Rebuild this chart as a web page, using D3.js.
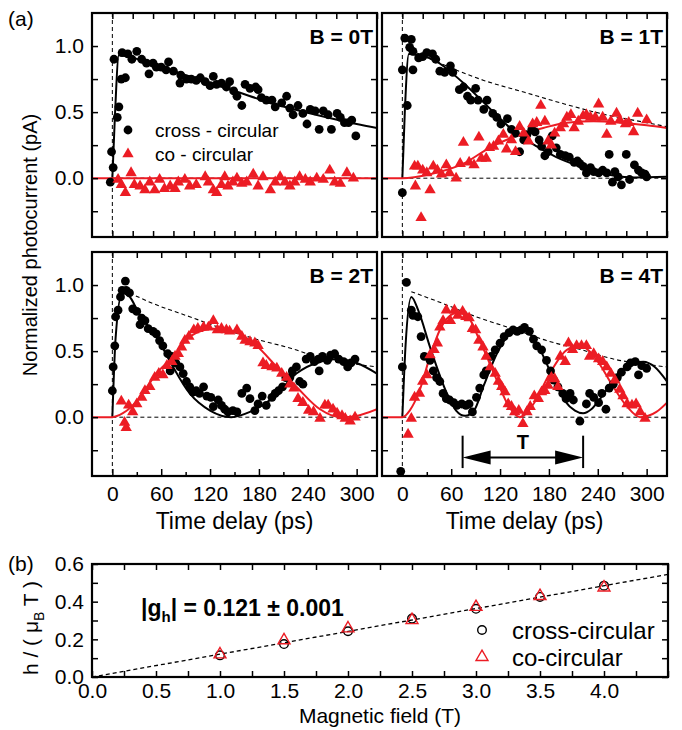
<!DOCTYPE html>
<html>
<head>
<meta charset="utf-8">
<script src="https://cdn.jsdelivr.net/npm/d3@7"></script>
<style>
  body { margin: 0; background: #fff; }
  text { font-family: "Liberation Sans", Arial, Helvetica, sans-serif; }
</style>
</head>
<body>
<svg id="chart" width="682" height="730"></svg>
<script>
// ---- data: [time delay (ps), normalized photocurrent] ----
const cross0T = [[-2.5,-0.03],[1,0.08],[-1,0.20],[6,0.46],[8,0.54],[2,0.90],[16,0.76],[11,0.75],[12,0.95],[19,0.94],[24,0.90],[30,0.96],[36,0.90],[42,0.87],[45,0.79],[50,0.87],[54,0.84],[60,0.84],[69,0.88],[66,0.82],[75,0.81],[83,0.72],[84,0.78],[91,0.75],[97,0.75],[103,0.74],[108,0.76],[114,0.73],[124,0.77],[120,0.70],[128,0.71],[134,0.72],[140,0.69],[144,0.73],[149,0.66],[153,0.62],[159,0.55],[163,0.71],[169,0.68],[176,0.69],[179,0.67],[183,0.61],[189,0.59],[196,0.59],[200,0.54],[208,0.57],[214,0.62],[218,0.53],[222,0.48],[228,0.55],[234,0.49],[239,0.41],[243,0.52],[249,0.51],[254,0.37],[259,0.51],[265,0.48],[269,0.37],[276,0.49],[280,0.46],[285,0.42],[290,0.42],[294,0.44],[299,0.32]];
const co0T = [[7,-0.01],[11,-0.05],[16,-0.11],[23,0.04],[27,-0.05],[34,-0.06],[40,-0.09],[46,-0.03],[52,-0.09],[58,-0.01],[64,-0.08],[71,-0.06],[77,-0.08],[81,-0.03],[89,-0.01],[95,-0.06],[103,-0.05],[114,0.01],[118,-0.03],[124,-0.09],[128,-0.11],[134,-0.05],[138,0.01],[142,-0.06],[148,-0.03],[153,0.0],[159,-0.04],[165,-0.03],[173,0.03],[179,-0.06],[185,0.01],[194,-0.09],[200,-0.03],[206,0.01],[212,-0.03],[218,-0.06],[224,-0.03],[230,0.01],[237,-0.01],[243,-0.03],[251,0.0],[259,-0.01],[267,0.06],[273,-0.03],[280,-0.04],[288,0.04],[296,0.0]];
const fitCross0T = [[0,0],[3,0.45],[8,0.93],[20,0.92],[50,0.86],[100,0.76],[150,0.66],[200,0.56],[250,0.48],[300,0.41],[325,0.38]];
const fitCo0T = [[-25,0],[325,0]];

const cross1T = [[0,-0.11],[0,0.82],[6,0.55],[3,1.06],[11,1.05],[9,0.99],[13,0.96],[20,0.91],[13,0.82],[30,0.95],[25,0.92],[37,0.94],[41,0.90],[46,0.81],[52,0.80],[59,0.85],[62,0.80],[70,0.67],[75,0.69],[80,0.62],[90,0.68],[84,0.59],[93,0.59],[100,0.52],[104,0.59],[111,0.49],[116,0.46],[121,0.41],[129,0.45],[134,0.37],[139,0.34],[144,0.20],[149,0.29],[153,0.33],[159,0.37],[163,0.35],[168,0.29],[171,0.24],[175,0.17],[179,0.20],[184,0.32],[189,0.23],[194,0.18],[200,0.17],[205,0.16],[211,0.12],[215,0.13],[218,0.11],[222,0.09],[226,0.04],[231,0.08],[235,0.05],[241,0.04],[246,0.06],[251,0.04],[254,0.18],[258,-0.03],[261,0.05],[265,0.01],[269,-0.05],[275,0.18],[279,-0.01],[285,0.10],[290,0.06],[294,0.04],[298,0.03],[300,0.01]];
const co1T = [[15,0.09],[19,0.09],[16,-0.06],[23,-0.30],[25,0.06],[30,0.04],[34,-0.09],[38,0.09],[43,0.06],[48,0.03],[54,0.10],[58,0.04],[66,0.0],[71,0.11],[75,0.27],[82,0.12],[88,0.10],[94,0.31],[97,0.15],[103,0.15],[107,0.23],[112,0.24],[118,0.28],[124,0.33],[128,0.22],[134,0.29],[139,0.20],[144,0.39],[149,0.34],[155,0.28],[160,0.41],[165,0.42],[170,0.55],[175,0.43],[179,0.28],[183,0.25],[187,0.34],[194,0.38],[198,0.41],[202,0.46],[207,0.48],[211,0.38],[216,0.43],[222,0.47],[226,0.48],[231,0.46],[237,0.46],[241,0.56],[246,0.46],[251,0.33],[256,0.43],[263,0.49],[267,0.44],[274,0.41],[278,0.42],[284,0.35],[289,0.49],[300,0.44]];
const fitCross1T = [[0,0],[3,0.5],[8,0.94],[20,0.93],[40,0.89],[75,0.72],[107,0.53],[140,0.34],[165,0.24],[189,0.16],[218,0.09],[251,0.03],[285,0.005],[325,0.01]];
const fitCo1T = [[-25,0],[0,0],[34,0.03],[75,0.11],[107,0.23],[140,0.32],[173,0.38],[202,0.42],[235,0.43],[267,0.42],[300,0.40],[325,0.38]];
const env1T = [[10,0.97],[50,0.86],[100,0.74],[150,0.65],[200,0.56],[250,0.48],[300,0.42],[325,0.39]];

const cross2T = [[0,0.20],[1,0.38],[3,0.54],[4,0.76],[7,0.81],[10,0.91],[12,0.96],[16,1.03],[17,0.96],[21,0.94],[25,0.82],[30,0.80],[36,0.75],[40,0.73],[34,0.70],[44,0.67],[50,0.65],[54,0.63],[58,0.58],[62,0.54],[68,0.48],[73,0.46],[71,0.35],[78,0.41],[83,0.38],[87,0.33],[91,0.27],[95,0.23],[99,0.19],[103,0.20],[107,0.18],[112,0.23],[116,0.16],[121,0.15],[124,0.08],[130,0.13],[134,0.09],[138,0.06],[142,0.04],[148,0.05],[153,0.04],[159,0.18],[165,0.22],[169,0.14],[175,0.05],[179,0.10],[184,0.16],[189,0.09],[196,0.15],[200,0.18],[204,0.20],[209,0.23],[213,0.30],[218,0.30],[221,0.35],[226,0.38],[230,0.27],[234,0.25],[238,0.44],[243,0.46],[248,0.42],[254,0.35],[253,0.44],[258,0.46],[264,0.43],[268,0.47],[273,0.48],[278,0.44],[284,0.42],[289,0.38],[293,0.41],[298,0.44]];
const co2T = [[11,0.12],[15,-0.04],[17,-0.08],[20,0.09],[25,0.04],[30,0.10],[36,0.15],[40,0.20],[46,0.23],[52,0.30],[57,0.33],[62,0.32],[67,0.39],[73,0.42],[77,0.46],[81,0.48],[85,0.53],[89,0.58],[94,0.61],[100,0.66],[105,0.67],[112,0.68],[118,0.68],[124,0.73],[129,0.66],[134,0.67],[140,0.66],[144,0.65],[153,0.66],[159,0.61],[163,0.58],[169,0.57],[175,0.56],[179,0.54],[185,0.41],[189,0.39],[196,0.38],[202,0.37],[208,0.33],[214,0.30],[218,0.25],[223,0.22],[228,0.14],[234,0.11],[241,0.05],[247,0.04],[255,-0.01],[261,0.09],[265,0.09],[271,0.06],[276,0.03],[282,0.01],[286,-0.01],[292,-0.03],[298,0.0]];
const fitCross2T = [[0,0],[4,0.6],[12,0.94],[20,0.92],[34,0.77],[54,0.61],[71,0.42],[95,0.18],[120,0.05],[146,0.0],[169,0.04],[198,0.15],[226,0.33],[255,0.42],[276,0.44],[300,0.41],[325,0.33]];
const fitCo2T = [[-25,0],[0,0],[13,0.03],[34,0.15],[54,0.33],[75,0.46],[95,0.61],[124,0.67],[148,0.65],[177,0.54],[202,0.38],[226,0.23],[255,0.06],[280,0.0],[300,0.01],[325,0.06]];
const env2T = [[21,0.94],[50,0.86],[95,0.76],[150,0.64],[177,0.59],[220,0.52],[259,0.44],[300,0.40],[325,0.38]];

const cross4T = [[-2,-0.41],[5,1.02],[0,0.38],[11,0.81],[13,0.77],[19,0.76],[23,0.61],[27,0.46],[34,0.43],[38,0.35],[42,0.30],[46,0.27],[50,0.18],[54,0.14],[58,0.13],[63,0.11],[67,0.09],[73,0.10],[78,0.09],[82,0.10],[86,0.04],[91,0.15],[95,0.22],[100,0.32],[103,0.35],[109,0.46],[114,0.51],[120,0.56],[125,0.61],[131,0.64],[136,0.66],[141,0.65],[146,0.66],[150,0.68],[156,0.65],[161,0.59],[165,0.54],[171,0.51],[177,0.43],[182,0.35],[186,0.28],[191,0.23],[197,0.18],[201,0.14],[206,0.18],[210,0.13],[218,-0.03],[226,0.10],[230,0.18],[235,0.15],[241,0.11],[245,0.18],[250,0.06],[254,0.22],[259,0.25],[264,0.30],[269,0.34],[276,0.38],[280,0.41],[286,0.42],[290,0.32],[294,0.39],[300,0.37]];
const co4T = [[7,-0.13],[11,-0.01],[15,0.15],[21,0.18],[25,0.27],[30,0.32],[34,0.47],[39,0.51],[43,0.56],[46,0.68],[50,0.73],[54,0.81],[59,0.73],[64,0.81],[68,0.77],[74,0.80],[78,0.76],[82,0.75],[86,0.67],[90,0.66],[94,0.58],[99,0.53],[103,0.46],[108,0.38],[114,0.33],[118,0.27],[122,0.23],[126,0.19],[130,0.10],[134,0.08],[138,0.04],[143,0.05],[148,-0.05],[153,0.04],[157,0.08],[162,0.16],[167,0.14],[171,0.19],[175,0.20],[179,0.24],[183,0.30],[187,0.29],[191,0.23],[194,0.46],[200,0.42],[204,0.56],[209,0.51],[214,0.54],[220,0.54],[226,0.54],[230,0.46],[235,0.48],[241,0.44],[246,0.42],[251,0.38],[256,0.33],[261,0.28],[267,0.21],[271,0.16],[276,0.10],[282,0.09],[287,0.10],[292,0.04],[298,-0.01]];
const fitCross4T = [[0,0],[4,0.55],[11,0.91],[20,0.80],[34,0.53],[54,0.19],[66,0.05],[77,0.01],[88,0.05],[100,0.24],[116,0.48],[130,0.62],[144,0.67],[155,0.64],[165,0.56],[185,0.30],[200,0.12],[212,0.05],[222,0.03],[232,0.06],[243,0.14],[267,0.34],[285,0.41],[296,0.42],[310,0.38],[325,0.27]];
const fitCo4T = [[-25,0],[0,0],[9,0.05],[21,0.20],[34,0.46],[46,0.66],[57,0.76],[68,0.79],[79,0.77],[95,0.58],[116,0.28],[130,0.09],[144,0.0],[161,0.10],[181,0.33],[202,0.51],[218,0.54],[239,0.43],[259,0.23],[276,0.08],[292,0.0],[312,0.04],[325,0.11]];
const env4T = [[11,0.95],[50,0.86],[95,0.75],[140,0.66],[177,0.58],[220,0.51],[259,0.44],[300,0.40],[325,0.38]];
const periodMarks4T = [74, 222];   // the "T" arrow ends (ps)

// ---- panel (b): h/(muB T) vs magnetic field ----
const bField = [1.0, 1.5, 2.0, 2.5, 3.0, 3.5, 4.0];
const crossH = [0.115, 0.175, 0.243, 0.310, 0.362, 0.425, 0.485];
const coH = [0.120, 0.195, 0.258, 0.302, 0.372, 0.430, 0.475];
const gFit = [[0, 0], [4.5, 0.545]];

const tDomain = [-25, 325];
const vDomain = [-0.445, 1.25];
const red = "#ec1c24";
const svg = d3.select("#chart");

const panels = [
  { name: "B = 0T", x0: 92,  y0: 13,  cross: cross0T, co: co0T, fitCross: fitCross0T, fitCo: fitCo0T, env: null,  left: true,  low: false },
  { name: "B = 1T", x0: 382, y0: 13,  cross: cross1T, co: co1T, fitCross: fitCross1T, fitCo: fitCo1T, env: env1T, left: false, low: false },
  { name: "B = 2T", x0: 92,  y0: 252, cross: cross2T, co: co2T, fitCross: fitCross2T, fitCo: fitCo2T, env: env2T, left: true,  low: true },
  { name: "B = 4T", x0: 382, y0: 252, cross: cross4T, co: co4T, fitCross: fitCross4T, fitCo: fitCo4T, env: env4T, left: false, low: true }
];
const pw = 285, ph = 224;

const tri = d3.symbol().type(d3.symbolTriangle).size(56);

panels.forEach((p, i) => {
  const g = svg.append("g").attr("transform", `translate(${p.x0},${p.y0})`);
  const x = d3.scaleLinear().domain(tDomain).range([0, pw]);
  const y = d3.scaleLinear().domain(vDomain).range([ph, 0]);
  const line = d3.line().x(d => x(d[0])).y(d => y(d[1])).curve(d3.curveMonotoneX);

  g.append("clipPath").attr("id", "clip" + i)
    .append("rect").attr("width", pw).attr("height", ph);
  const plot = g.append("g").attr("clip-path", `url(#clip${i})`);

  // dashed guides
  plot.append("line")
    .attr("x1", x(0)).attr("x2", x(0)).attr("y1", 0).attr("y2", ph)
    .attr("stroke", "#000").attr("stroke-width", 1).attr("stroke-dasharray", "4,3");
  plot.append("line")
    .attr("x1", x(0)).attr("x2", pw).attr("y1", y(0)).attr("y2", y(0))
    .attr("stroke", "#000").attr("stroke-width", 1).attr("stroke-dasharray", "4,3");
  if (p.env) {
    plot.append("path").datum(p.env).attr("d", line)
      .attr("fill", "none").attr("stroke", "#000").attr("stroke-width", 1.1)
      .attr("stroke-dasharray", "4,3");
  }

  // fits
  plot.append("path").datum(p.fitCross).attr("d", line)
    .attr("fill", "none").attr("stroke", "#000").attr("stroke-width", 2);
  plot.append("path").datum(p.fitCo).attr("d", line)
    .attr("fill", "none").attr("stroke", red).attr("stroke-width", 2);

  // data
  plot.selectAll(".dot").data(p.cross).join("circle")
    .attr("cx", d => x(d[0])).attr("cy", d => y(d[1])).attr("r", 4.4).attr("fill", "#000");
  plot.selectAll(".tri").data(p.co).join("path")
    .attr("d", tri).attr("transform", d => `translate(${x(d[0])},${y(d[1])})`).attr("fill", red);

  // axes with inward ticks
  const yt = [-0.25, 0, 0.25, 0.5, 0.75, 1.0];
  const fmt = d3.format(".1f");
  g.append("g").call(d3.axisLeft(y).tickValues(yt).tickSize(-6).tickPadding(8)
    .tickFormat(d => p.left && Math.abs(d % 0.5) < 1e-9 ? fmt(d) : ""));
  g.append("g").attr("transform", `translate(${pw},0)`)
    .call(d3.axisRight(y).tickValues(yt).tickSize(-6).tickFormat(""));
  const xt = p.low ? d3.range(0, 326, 30) : d3.range(0, 326, 25);
  g.append("g").call(d3.axisTop(x).tickValues(xt).tickSize(-6).tickFormat(""));
  if (p.low) {
    g.append("g").attr("transform", `translate(0,${ph})`)
      .call(d3.axisBottom(x).tickValues(d3.range(0, 301, 60)).tickSize(-7).tickPadding(10));
    g.append("g").attr("transform", `translate(0,${ph})`)
      .call(d3.axisBottom(x).tickValues(d3.range(30, 300, 60)).tickSize(-4).tickFormat(""));
  } else {
    g.append("g").attr("transform", `translate(0,${ph})`)
      .call(d3.axisBottom(x).tickValues(xt).tickSize(-6).tickFormat(""));
  }
  g.selectAll(".domain").remove();
  g.selectAll(".tick line").attr("stroke-width", 1.5);
  g.selectAll(".tick text").attr("font-size", 21).attr("fill", "#000")
    .attr("font-family", '"Liberation Sans", Arial, sans-serif');

  g.append("rect").attr("width", pw).attr("height", ph)
    .attr("fill", "none").attr("stroke", "#000").attr("stroke-width", 2.2);

  g.append("text").attr("x", pw - 4).attr("y", 31).attr("text-anchor", "end")
    .attr("font-size", 21).attr("font-weight", "bold").text(p.name);

  if (i === 0) {
    // legend
    g.append("circle").attr("cx", 36).attr("cy", 117).attr("r", 4.4).attr("fill", "#000");
    g.append("text").attr("x", 63).attr("y", 124).attr("font-size", 19).text("cross - circular");
    g.append("path").attr("d", tri).attr("transform", "translate(36,141)").attr("fill", red);
    g.append("text").attr("x", 63).attr("y", 148).attr("font-size", 19).text("co - circular");
  }
  if (p.low) {
    g.append("text").attr("x", pw / 2).attr("y", ph + 53).attr("text-anchor", "middle")
      .attr("font-size", 23).text("Time delay (ps)");
  }
  if (i === 3) {
    // period arrow
    const ax0 = x(periodMarks4T[0]), ax1 = x(periodMarks4T[1]);
    const ay = y(-0.305);
    const ag = g.append("g");
    [ax0, ax1].forEach(a => ag.append("line").attr("x1", a).attr("x2", a)
      .attr("y1", y(-0.14)).attr("y2", y(-0.385)).attr("stroke", "#000").attr("stroke-width", 2));
    ag.append("line").attr("x1", ax0 + 20).attr("x2", ax1 - 20).attr("y1", ay).attr("y2", ay)
      .attr("stroke", "#000").attr("stroke-width", 2);
    ag.append("path").attr("d", `M${ax0},${ay}L${ax0 + 28},${ay - 7}L${ax0 + 28},${ay + 7}Z`);
    ag.append("path").attr("d", `M${ax1},${ay}L${ax1 - 28},${ay - 7}L${ax1 - 28},${ay + 7}Z`);
    ag.append("text").attr("x", (ax0 + ax1) / 2).attr("y", ay - 8).attr("text-anchor", "middle")
      .attr("font-size", 20).attr("font-weight", "bold").text("T");
  }
});

svg.append("text").attr("x", 8).attr("y", 26).attr("font-size", 21).text("(a)");
svg.append("text").attr("transform", "translate(37,245) rotate(-90)")
  .attr("text-anchor", "middle").attr("font-size", 20).text("Normalized photocurrent (pA)");

// ---- panel (b) ----
const bx = d3.scaleLinear().domain([0, 4.5]).range([92, 668]);
const by = d3.scaleLinear().domain([0, 0.6]).range([677, 564]);
const gb = svg.append("g");

gb.append("path").datum(gFit)
  .attr("d", d3.line().x(d => bx(d[0])).y(d => by(d[1])))
  .attr("fill", "none").attr("stroke", "#000").attr("stroke-width", 1.3).attr("stroke-dasharray", "4,3");

gb.selectAll(".bc").data(bField).join("circle")
  .attr("cx", d => bx(d)).attr("cy", (d, i) => by(crossH[i])).attr("r", 4.3)
  .attr("fill", "none").attr("stroke", "#000").attr("stroke-width", 1.4);
const triB = d3.symbol().type(d3.symbolTriangle).size(62);
gb.selectAll(".bt").data(bField).join("path")
  .attr("d", triB).attr("transform", (d, i) => `translate(${bx(d)},${by(coH[i])})`)
  .attr("fill", "none").attr("stroke", red).attr("stroke-width", 1.4);

const bxt = d3.range(0, 4.51, 0.25);
const byt = d3.range(0, 0.61, 0.1);
const f1 = d3.format(".1f");
gb.append("g").attr("transform", "translate(0,677)")
  .call(d3.axisBottom(bx).tickValues(bxt).tickSize(-6).tickPadding(6)
    .tickFormat(d => Math.abs((d * 2) % 1) < 1e-9 && d < 4.4 ? f1(d) : ""));
gb.append("g").attr("transform", "translate(0,564)")
  .call(d3.axisTop(bx).tickValues(bxt).tickSize(-6).tickFormat(""));
gb.append("g").attr("transform", "translate(92,0)")
  .call(d3.axisLeft(by).tickValues(byt).tickSize(-6).tickPadding(8)
    .tickFormat(d => Math.round(d * 10) % 2 === 0 ? f1(d) : ""));
gb.append("g").attr("transform", "translate(668,0)")
  .call(d3.axisRight(by).tickValues(byt).tickSize(-6).tickFormat(""));
gb.selectAll(".domain").remove();
gb.selectAll(".tick line").attr("stroke-width", 1.5);
gb.selectAll(".tick text").attr("font-size", 21).attr("fill", "#000")
  .attr("font-family", '"Liberation Sans", Arial, sans-serif');
gb.append("rect").attr("x", 92).attr("y", 564).attr("width", 576).attr("height", 113)
  .attr("fill", "none").attr("stroke", "#000").attr("stroke-width", 2.2);

const gt = gb.append("text").attr("x", 141).attr("y", 616).attr("font-size", 23).attr("font-weight", "bold");
gt.append("tspan").text("|g");
gt.append("tspan").attr("font-size", 15).attr("dy", 6).text("h");
gt.append("tspan").attr("dy", -6).text("| = 0.121 ± 0.001");

gb.append("circle").attr("cx", 482).attr("cy", 630).attr("r", 4.3)
  .attr("fill", "none").attr("stroke", "#000").attr("stroke-width", 1.4);
gb.append("text").attr("x", 512).attr("y", 639).attr("font-size", 24).text("cross-circular");
gb.append("path").attr("d", triB).attr("transform", "translate(482,657)")
  .attr("fill", "none").attr("stroke", red).attr("stroke-width", 1.4);
gb.append("text").attr("x", 512).attr("y", 666).attr("font-size", 24).text("co-circular");

gb.append("text").attr("x", 380).attr("y", 723).attr("text-anchor", "middle")
  .attr("font-size", 21).text("Magnetic field (T)");
svg.append("text").attr("x", 8).attr("y", 571).attr("font-size", 21).text("(b)");
const yl = svg.append("text").attr("transform", "translate(38,628) rotate(-90)")
  .attr("text-anchor", "middle").attr("font-size", 21);
yl.append("tspan").text("h / ( μ");
yl.append("tspan").attr("font-size", 14).attr("dy", 6).text("B");
yl.append("tspan").attr("dy", -6).text(" T )");
</script>
</body>
</html>
